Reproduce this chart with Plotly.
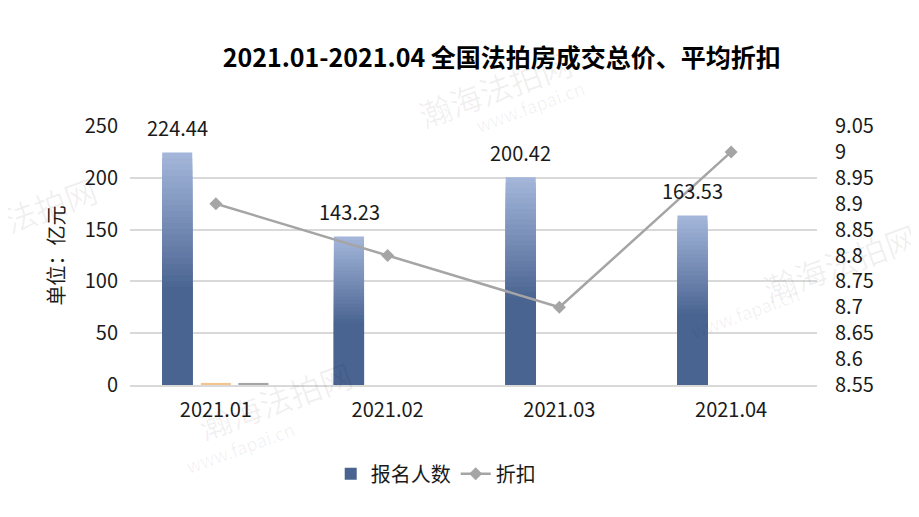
import numpy as np
import plotly.graph_objects as go

# ---------------- data ----------------
months = ['2021.01', '2021.02', '2021.03', '2021.04']
total_price = [224.44, 143.23, 200.42, 163.53]      # 报名人数 (bars, 亿元)
minor_a = [2.0, 0, 0, 0]                             # tiny orange bar
minor_b = [2.0, 0, 0, 0]                             # tiny grey bar
discount = [8.9, 8.8, 8.7, 9.0]                      # 折扣 (line, right axis)
left_ticks = [0, 50, 100, 150, 200, 250]
right_ticks = [8.55, 8.6, 8.65, 8.7, 8.75, 8.8, 8.85, 8.9, 8.95, 9.0, 9.05]
right_labels = ['8.55', '8.6', '8.65', '8.7', '8.75', '8.8', '8.85', '8.9', '8.95', '9', '9.05']

FONT = 'Noto Sans CJK SC, Microsoft YaHei, sans-serif'
TXT = '#1a1a1a'

fig = go.Figure()

# gradient bars: overlay of progressively shorter, darker bars
light = np.array([163, 182, 218])
dark = np.array([74, 100, 145])
steps = 24
fracs = np.linspace(1.0, 0.42, steps)
bar_w = 0.175
bar_off = -0.3125
vals = np.array(total_price)
for i, f in enumerate(fracs):
    t = i / (steps - 1)
    c = light + (dark - light) * t
    fig.add_trace(go.Bar(
        x=months, y=list(vals * f), width=bar_w, offset=bar_off,
        marker=dict(color='rgb(%d,%d,%d)' % tuple(c), line=dict(width=0)),
        showlegend=False, hoverinfo='skip', yaxis='y'))

fig.add_trace(go.Bar(
    x=months, y=list(vals * fracs[-1]), width=bar_w, offset=bar_off,
    name='报名人数', marker=dict(color='rgb(%d,%d,%d)' % tuple(dark), line=dict(width=0)),
    showlegend=True, yaxis='y'))

fig.add_trace(go.Bar(
    x=months, y=minor_a, width=bar_w, offset=-0.0875,
    marker=dict(color='#f3c48e', line=dict(width=0)), showlegend=False, yaxis='y'))
fig.add_trace(go.Bar(
    x=months, y=minor_b, width=bar_w, offset=0.131,
    marker=dict(color='#a5a5a5', line=dict(width=0)), showlegend=False, yaxis='y'))

fig.add_trace(go.Scatter(
    x=months, y=discount, name='折扣', mode='lines+markers', yaxis='y2',
    line=dict(color='#a5a5a5', width=2.5),
    marker=dict(symbol='diamond', size=10, color='#a5a5a5')))

# data labels (numeric category index so the axis does not read '2021.01' as a number)
for i, v in enumerate(total_price):
    fig.add_annotation(x=i, y=v, xref='x', yref='y', text='%.2f' % v,
                       showarrow=False, xshift=-38.5, yshift=25,
                       font=dict(family=FONT, size=20, color=TXT))

# faint watermarks
wm = [
    (0.531, 1.147, '瀚海法拍网', 32), (0.582, 1.077, 'www.fapai.cn', 18),
    (1.033, 0.475, '瀚海法拍网', 32), (0.895, 0.282, 'www.fapai.cn', 18),
    (0.211, -0.058, '瀚海法拍网', 32), (0.160, -0.239, 'www.fapai.cn', 18),
    (-0.160, 0.656, '瀚海法拍网', 32),
]
for x, y, t, s in wm:
    fig.add_annotation(x=x, y=y, xref='paper', yref='paper', text=t,
                       showarrow=False, textangle=-20,
                       xanchor='center', yanchor='middle',
                       font=dict(family=FONT, size=s, color='rgba(0,0,0,0.06)'))

fig.update_layout(
    width=911, height=509,
    margin=dict(l=122, r=102, t=118, b=132),
    paper_bgcolor='white', plot_bgcolor='white',
    barmode='overlay',
    font=dict(family=FONT, size=20, color=TXT),
    title=dict(text='<b>2021.01-2021.04 全国法拍房成交总价、平均折扣</b>',
               x=0.542, xanchor='center', y=0.902, yanchor='middle',
               font=dict(family=FONT, size=25, color='#000000')),
    xaxis=dict(type='category', range=[-0.5, 3.5], showgrid=False,
               showline=True, linecolor='#d9d9d9', linewidth=2,
               ticks='', tickfont=dict(size=20, color=TXT), ticklabelstandoff=6),
    yaxis=dict(range=[0, 250], tickvals=left_ticks, showgrid=True,
               gridcolor='#d9d9d9', gridwidth=1.5, zeroline=False,
               tickfont=dict(size=20, color=TXT), ticklabelstandoff=11,
               title=dict(text='单位：亿元', standoff=14,
                          font=dict(size=20, color=TXT))),
    yaxis2=dict(range=[8.55, 9.05], overlaying='y', side='right',
                tickvals=right_ticks, ticktext=right_labels, showgrid=False,
                zeroline=False, tickfont=dict(size=20, color=TXT),
                ticklabelstandoff=17),
    legend=dict(orientation='h', x=0.445, xanchor='center', y=-0.343,
                yanchor='middle', font=dict(size=20, color=TXT),
                bgcolor='rgba(0,0,0,0)'),
    hovermode=False,
)

fig.write_html('out.html')
